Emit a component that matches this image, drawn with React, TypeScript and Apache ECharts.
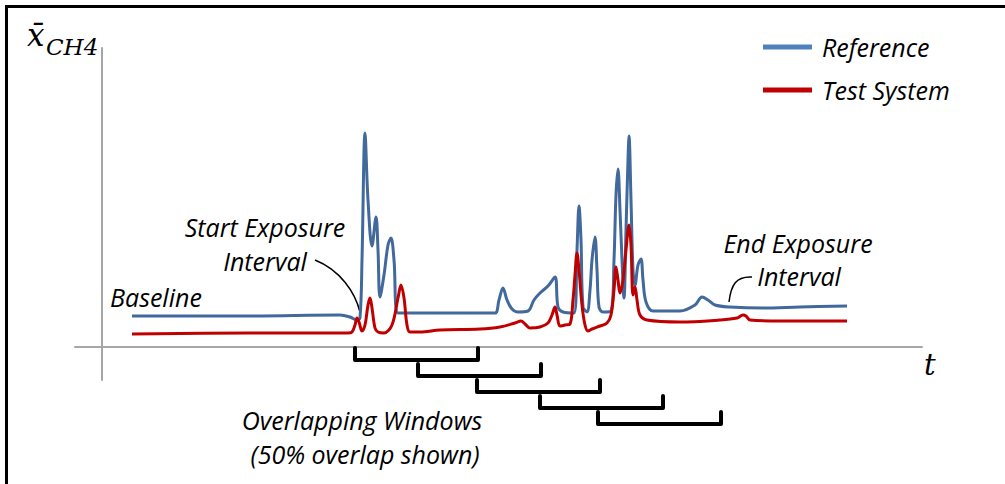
import React, { useEffect, useRef } from "react";
import * as echarts from "echarts";

// time axis (t, arbitrary units) and mean CH4 concentration (arbitrary units)
const referenceT = [30, 148, 238, 248, 255, 258, 260, 263, 266, 270, 274, 276, 278, 282, 286, 289, 292, 296, 318, 378, 393, 397, 401, 405, 410, 416, 426, 432, 438, 446, 453, 456, 461, 472, 475, 477, 479, 481, 485, 488, 490, 493, 495, 497, 501, 509, 512, 514, 516, 518, 520, 522, 524, 526, 527, 529, 531, 533, 536, 539, 541, 544, 551, 578, 593, 600, 606, 613, 628, 661, 698, 745];
const referenceV = [31, 31, 32, 30, 27, 29, 87, 214, 147, 101, 130, 97, 50, 72, 102, 109, 87, 34, 34, 34, 34, 47, 59, 47, 38, 35, 36, 47, 54, 61, 70, 40, 35, 34, 97, 141, 107, 40, 35, 57, 87, 110, 77, 40, 35, 36, 87, 152, 178, 137, 87, 49, 117, 187, 211, 147, 77, 62, 82, 88, 67, 45, 36, 36, 42, 50, 47, 42, 40, 39, 40, 41];

const testT = [30, 148, 246, 250, 253, 255, 257, 260, 263, 266, 268, 270, 273, 276, 282, 290, 296, 299, 302, 305, 308, 318, 338, 378, 398, 413, 419, 423, 428, 438, 446, 450, 453, 455, 458, 463, 468, 471, 473, 475, 477, 480, 483, 486, 490, 498, 505, 509, 512, 514, 516, 518, 521, 524, 527, 529, 531, 533, 535, 538, 545, 578, 618, 635, 641, 644, 648, 678, 745];
const testV = [13, 14, 14, 15, 22, 29, 25, 16, 22, 42, 49, 39, 19, 15, 14, 22, 49, 62, 49, 22, 15, 15, 17, 18, 20, 24, 26, 23, 19, 20, 24, 32, 40, 32, 21, 22, 23, 47, 72, 94, 77, 42, 22, 16, 18, 21, 24, 32, 57, 80, 67, 54, 67, 97, 122, 102, 52, 60, 47, 32, 27, 25, 27, 29, 32, 31, 27, 26, 26];

// overlapping analysis windows (start, end) on the t axis
const windowStarts = [253, 316, 375, 438, 496];
const windowLength = 123;

const seriesNames = ["Reference", "Test System"];

const FONT = "'Open Sans'";
const SERIF = "'DejaVu Serif'";

export default function App() {
  const ref = useRef<HTMLDivElement>(null);
  useEffect(() => {
    if (!ref.current) return;
    const chart = echarts.init(ref.current, undefined, { renderer: "svg" });
    const refData = referenceT.map((t, i) => [t, referenceV[i]]);
    const testData = testT.map((t, i) => [t, testV[i]]);
    const windows = windowStarts.map((s) => [s, s + windowLength]);
    const label = (text: string, x: number, y: number, align = "center") => ({
      type: "text",
      x,
      y,
      style: {
        text,
        fill: "#000",
        font: `italic 25px ${FONT}`,
        align,
        verticalAlign: "middle",
      },
    });
    chart.setOption({
      animation: false,
      backgroundColor: "#fff",
      grid: { left: 75, right: 83, top: 48, bottom: 104, containLabel: false },
      xAxis: {
        type: "value",
        min: -27,
        max: 820,
        axisLine: { show: true, onZero: true, lineStyle: { color: "#a6a6a6", width: 2 } },
        axisTick: { show: false },
        axisLabel: { show: false },
        splitLine: { show: false },
      },
      yAxis: {
        type: "value",
        min: -33,
        max: 299,
        axisLine: { show: true, onZero: true, lineStyle: { color: "#a6a6a6", width: 2 } },
        axisTick: { show: false },
        axisLabel: { show: false },
        splitLine: { show: false },
      },
      legend: {
        orient: "vertical",
        left: 763,
        top: 34,
        padding: 0,
        icon: "rect",
        itemWidth: 49,
        itemHeight: 5,
        itemGap: 17,
        selectedMode: false,
        textStyle: {
          fontFamily: "Open Sans",
          fontStyle: "italic",
          fontSize: 25,
          color: "#000",
          lineHeight: 26,
          padding: [0, 0, 0, 5],
        },
        data: [
          { name: seriesNames[0], itemStyle: { color: "#4F81BD" } },
          { name: seriesNames[1], itemStyle: { color: "#C00000" } },
        ],
      },
      series: [
        {
          name: seriesNames[0],
          type: "line",
          data: refData,
          smooth: 0.35,
          symbol: "none",
          color: "#4F81BD",
          lineStyle: { color: "#41699B", width: 3 },
          z: 2,
        },
        {
          name: seriesNames[1],
          type: "line",
          data: testData,
          smooth: 0.35,
          symbol: "none",
          color: "#C00000",
          lineStyle: { color: "#C00000", width: 3 },
          z: 3,
        },
        {
          type: "custom",
          coordinateSystem: "cartesian2d",
          data: windows,
          clip: false,
          renderItem: (params: any, api: any) => {
            const p0 = api.coord([api.value(0), 0]);
            const p1 = api.coord([api.value(1), 0]);
            const top = p0[1] + 1 + params.dataIndex * 16;
            const bottom = top + 12;
            return {
              type: "polyline",
              shape: {
                points: [
                  [p0[0], top],
                  [p0[0], bottom],
                  [p1[0], bottom],
                  [p1[0], top],
                ],
              },
              style: { stroke: "#000", lineWidth: 4, fill: null, lineJoin: "round", lineCap: "round" },
            };
          },
        },
      ],
      graphic: [
        { type: "line", shape: { x1: 6.5, y1: 5, x2: 6.5, y2: 484 }, style: { stroke: "#000", lineWidth: 3 } },
        { type: "line", shape: { x1: 5, y1: 6.5, x2: 1005, y2: 6.5 }, style: { stroke: "#000", lineWidth: 3 } },
        {
          type: "text",
          x: 27,
          y: 35,
          style: { text: "x\u0304", fill: "#000", font: `italic 31px ${SERIF}`, align: "left", verticalAlign: "middle" },
        },
        {
          type: "text",
          x: 46,
          y: 47,
          style: { text: "CH4", fill: "#000", font: `italic 23px ${SERIF}`, align: "left", verticalAlign: "middle" },
        },
        {
          type: "text",
          x: 924,
          y: 365,
          style: { text: "t", fill: "#000", font: `italic 29px ${SERIF}`, align: "left", verticalAlign: "middle" },
        },
        label("Start Exposure", 265, 227),
        label("Interval", 265, 261),
        label("Baseline", 110, 297, "left"),
        label("End Exposure", 798, 243),
        label("Interval", 799, 276),
        label("Overlapping Windows", 362, 420),
        label("(50% overlap shown)", 365, 454),
        {
          type: "bezierCurve",
          shape: { x1: 315, y1: 260, cpx1: 340, cpy1: 270, cpx2: 355, cpy2: 292, x2: 360, y2: 312 },
          style: { stroke: "#000", lineWidth: 1.5, fill: null },
        },
        {
          type: "bezierCurve",
          shape: { x1: 752, y1: 277, cpx1: 736, cpy1: 276, cpx2: 731, cpy2: 285, x2: 729, y2: 302 },
          style: { stroke: "#000", lineWidth: 1.5, fill: null },
        },
      ],
    });
    return () => chart.dispose();
  }, []);
  return (
    <div
      ref={ref}
      style={{ position: "fixed", left: 0, top: 0, width: 1005, height: 484, background: "#fff" }}
    />
  );
}
